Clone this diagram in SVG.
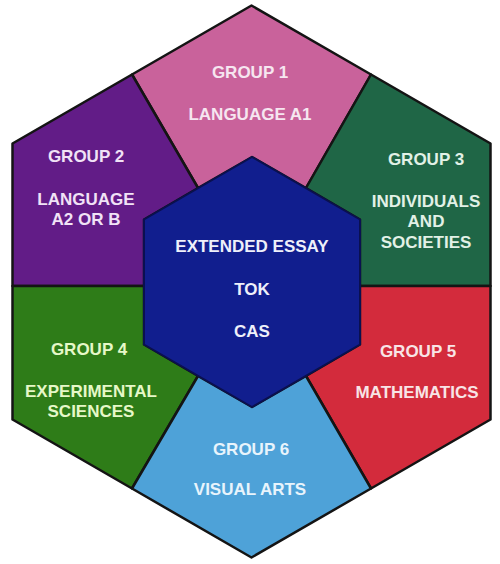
<svg xmlns="http://www.w3.org/2000/svg" width="500" height="564" viewBox="0 0 500 564">
  <style>
    .seg { stroke: #141414; stroke-width: 2.5; stroke-linejoin: round; }
    .t { font-family: "Liberation Sans", Arial, sans-serif; font-weight: bold; font-size: 17px; text-anchor: middle; }
  </style>
  <rect width="500" height="564" fill="#ffffff"/>
  <g id="group1">
    <polygon class="seg" fill="#c9629b" points="132,74.5 251.5,5.5 371,74.5 306,188 252,157 198,188"/>
    <text class="t" fill="#f6e6f0" x="250" y="78">GROUP 1</text>
    <text class="t" fill="#f6e6f0" x="250" y="120">LANGUAGE A1</text>
  </g>
  <g id="group2">
    <polygon class="seg" fill="#621c87" points="12.5,143.5 132,74.5 198,188 144,219.5 144,286 12.5,286"/>
    <text class="t" fill="#f1e2f6" x="86" y="162">GROUP 2</text>
    <text class="t" fill="#f1e2f6" x="86" y="205">LANGUAGE</text>
    <text class="t" fill="#f1e2f6" x="86" y="225">A2 OR B</text>
  </g>
  <g id="group3">
    <polygon class="seg" fill="#1f6646" points="371,74.5 490.5,143.5 490.5,286 360,286 360,219.5 306,188"/>
    <text class="t" fill="#e2f1e6" x="426" y="165">GROUP 3</text>
    <text class="t" fill="#e2f1e6" x="426" y="207">INDIVIDUALS</text>
    <text class="t" fill="#e2f1e6" x="426" y="227">AND</text>
    <text class="t" fill="#e2f1e6" x="426" y="248">SOCIETIES</text>
  </g>
  <g id="group4">
    <polygon class="seg" fill="#2e7c18" points="12.5,286 144,286 144,344.5 198,376 132,488.5 12.5,419.5"/>
    <text class="t" fill="#e6f8c8" x="89" y="355">GROUP 4</text>
    <text class="t" fill="#e6f8c8" x="91" y="397">EXPERIMENTAL</text>
    <text class="t" fill="#e6f8c8" x="91" y="417">SCIENCES</text>
  </g>
  <g id="group5">
    <polygon class="seg" fill="#d32b3c" points="490.5,286 490.5,419.5 371,488.5 306,376 360,344.5 360,286"/>
    <text class="t" fill="#f8e4e6" x="418" y="357">GROUP 5</text>
    <text class="t" fill="#f8e4e6" x="417" y="398">MATHEMATICS</text>
  </g>
  <g id="group6">
    <polygon class="seg" fill="#4ea2d8" points="132,488.5 198,376 252,407 306,376 371,488.5 251.5,557.5"/>
    <text class="t" fill="#e8f4fc" x="251" y="455">GROUP 6</text>
    <text class="t" fill="#e8f4fc" x="250" y="495">VISUAL ARTS</text>
  </g>
  <g id="core">
    <polygon fill="#111e8e" stroke="#0a1050" stroke-width="2" stroke-linejoin="round" points="252,157 360,219.5 360,344.5 252,407 144,344.5 144,219.5"/>
    <text class="t" fill="#eef0fa" x="252" y="252">EXTENDED ESSAY</text>
    <text class="t" fill="#eef0fa" x="252" y="295">TOK</text>
    <text class="t" fill="#eef0fa" x="252" y="337">CAS</text>
  </g>
  <g id="connectors"></g>
</svg>
